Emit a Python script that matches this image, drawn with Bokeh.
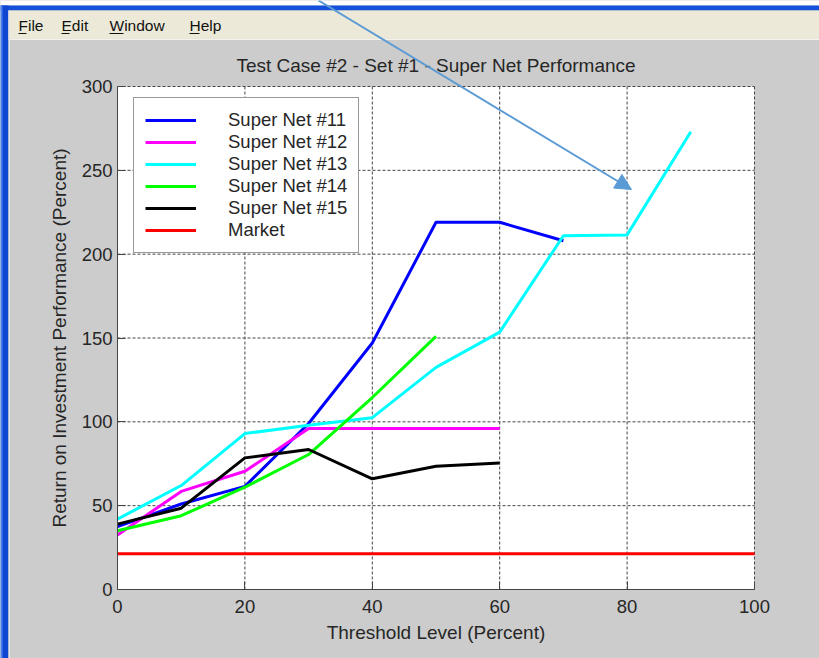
from bokeh.plotting import figure
from bokeh.models import (Label, Arrow, NormalHead, Legend, LegendItem, Range1d)
from bokeh.embed import file_html
from bokeh.resources import INLINE

# ---------------- data ----------------
threshold = [0, 10, 20, 30, 40, 50, 60, 70, 80, 90]
net11 = [37.5, 51, 61.5, 99, 147, 219, 219, 208]
net12 = [32.5, 58.5, 70.5, 96, 96, 96, 96]
net13 = [42, 62, 93, 98, 102.5, 132.5, 153.5, 211, 211.5, 273]
net14 = [35, 44, 61, 80.5, 114.5, 151]
net15 = [39, 48.5, 78.5, 83.5, 66, 73.5, 75.5]
market_x = [0, 100]
market = [21.3, 21.3]

series_names = ["Super Net #11", "Super Net #12", "Super Net #13",
                "Super Net #14", "Super Net #15", "Market"]
series_colors = ["#0000FF", "#FF00FF", "#00FFFF", "#00FF00", "#000000", "#FF0000"]

x_ticks = [0, 20, 40, 60, 80, 100]
y_ticks = [0, 50, 100, 150, 200, 250, 300]
x_min, x_max = 0, 100
y_min, y_max = 0, 300

title_text = "Test Case #2 - Set #1 - Super Net Performance"
x_label = "Threshold Level (Percent)"
y_label = "Return on Investment Performance (Percent)"
menu_items = ["File", "Edit", "Window", "Help"]

# ---------------- layout (pixels of the 819x658 window) ----------------
W, H = 819, 658
PX_L, PX_R, PY_T, PY_B = 117, 754, 86, 589   # plot area box


def X(px):
    return x_min + (px - PX_L) * (x_max - x_min) / (PX_R - PX_L)


def Y(py):
    return y_min + (PY_B - py) * (y_max - y_min) / (PY_B - PY_T)


FONT = "Liberation Sans"
TXT = "#262626"

p = figure(width=W, height=H,
           x_range=Range1d(X(0), X(W)), y_range=Range1d(Y(H), Y(0)),
           min_border=0, min_border_left=0, min_border_right=0,
           min_border_top=0, min_border_bottom=0,
           title_location=None,
           output_backend="svg", toolbar_location=None,
           background_fill_color="#CCCCCC", border_fill_color="#CCCCCC")
p.outline_line_color = None
p.xgrid.visible = False
p.ygrid.visible = False

# ---- window chrome ----
p.quad(left=X(0), right=X(W), top=Y(0), bottom=Y(5), fill_color="white", line_color=None)
p.quad(left=X(0), right=X(W), top=Y(5), bottom=Y(10), fill_color="#1450DC", line_color=None)
p.quad(left=X(0), right=X(8), top=Y(5), bottom=Y(H), fill_color="#0F46D2", line_color=None)
p.quad(left=X(0), right=X(2), top=Y(5), bottom=Y(H), fill_color="#4A82F0", line_color=None)
p.quad(left=X(8), right=X(W), top=Y(10), bottom=Y(38), fill_color="#ECE9D8", line_color=None)
p.quad(left=X(8), right=X(W), top=Y(38), bottom=Y(39.5), fill_color="#F4F2EA", line_color=None)
p.quad(left=X(8), right=X(9.5), top=Y(10), bottom=Y(H), fill_color="#E4E4E4", line_color=None)

menu_px = [18, 61, 109, 189]
menu_ul = [8, 8, 14, 10]
for name, mx, ul in zip(menu_items, menu_px, menu_ul):
    p.add_layout(Label(x=X(mx), y=Y(24.5), text=name, text_font=FONT,
                       text_font_size="15.5px", text_color="#111111",
                       text_baseline="middle", text_align="left"))
    p.segment(x0=X(mx), x1=X(mx + ul), y0=Y(33), y1=Y(33),
              line_color="#111111", line_width=1)

# ---- plot area ----
p.quad(left=x_min, right=x_max, bottom=y_min, top=y_max,
       fill_color="white", line_color=None)

gx = [t for t in x_ticks if t != x_min]
gy = [t for t in y_ticks if t != y_min]
p.segment(x0=gx, x1=gx, y0=[y_min] * len(gx), y1=[y_max] * len(gx),
          line_color="#444444", line_dash="3 2", line_width=1)
p.segment(x0=[x_min] * len(gy), x1=[x_max] * len(gy), y0=gy, y1=gy,
          line_color="#444444", line_dash="3 2", line_width=1)

series = [
    (threshold[:len(net11)], net11),
    (threshold[:len(net12)], net12),
    (threshold[:len(net13)], net13),
    (threshold[:len(net14)], net14),
    (threshold[:len(net15)], net15),
    (market_x, market),
]
renderers = []
for (xs, ys), name, col in zip(series, series_names, series_colors):
    r = p.line(xs, ys, line_color=col, line_width=3)
    renderers.append((name, r))

# ---- axes (fixed at the plot-area edges) ----
xa, ya = p.xaxis[0], p.yaxis[0]
xa.fixed_location = y_min
ya.fixed_location = x_min
xa.bounds = (x_min, x_max)
ya.bounds = (y_min, y_max)
xa.ticker = x_ticks
ya.ticker = y_ticks
xa.axis_label = x_label
ya.axis_label = y_label
for ax in (xa, ya):
    ax.axis_line_color = "#444444"
    ax.major_tick_line_color = "#444444"
    ax.major_tick_in = 8
    ax.major_tick_out = 0
    ax.minor_tick_line_color = None
    ax.major_label_text_font = FONT
    ax.major_label_text_font_size = "18.5px"
    ax.major_label_text_color = TXT
    ax.axis_label_text_font = FONT
    ax.axis_label_text_font_size = "19px"
    ax.axis_label_text_font_style = "normal"
    ax.axis_label_text_color = TXT
xa.major_label_standoff = 10
xa.axis_label_standoff = 6
ya.major_label_standoff = 5
ya.axis_label_standoff = 9

# ---- title ----
p.add_layout(Label(x=(x_min + x_max) / 2, y=Y(65), text=title_text,
                   text_font=FONT, text_font_size="19px", text_color=TXT,
                   text_align="center", text_baseline="middle"))

# ---- legend ----
legend = Legend(items=[LegendItem(label=n, renderers=[r]) for n, r in renderers],
                location=(133, H - 253))
legend.border_line_color = "#333333"
legend.border_line_width = 1
legend.background_fill_color = "white"
legend.background_fill_alpha = 1
legend.label_text_font = FONT
legend.label_text_font_size = "18.5px"
legend.label_text_color = TXT
legend.glyph_width = 51
legend.glyph_height = 22
legend.label_height = 22
legend.label_standoff = 32
legend.padding = 11
legend.spacing = 0
legend.margin = 0
p.add_layout(legend)

# ---- call-out arrow ----
p.add_layout(Arrow(end=NormalHead(size=16, fill_color="#5B9BD5", line_color="#5B9BD5"),
                   x_start=X(318), y_start=Y(0), x_end=X(631), y_end=Y(189),
                   line_color="#5B9BD5", line_width=2))

open("out.html", "w").write(file_html(p, INLINE))
